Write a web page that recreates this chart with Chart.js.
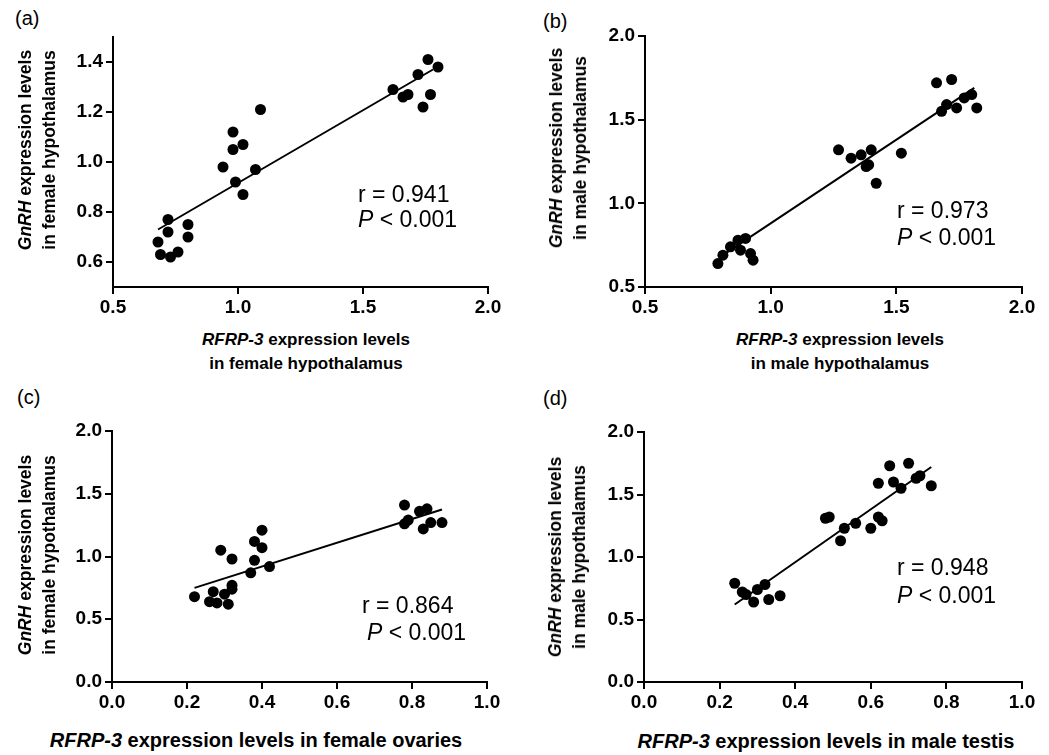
<!DOCTYPE html>
<html>
<head>
<meta charset="utf-8">
<script src="https://cdn.jsdelivr.net/npm/chart.js@4.4.1/dist/chart.umd.min.js"></script>
<style>
  html, body { margin: 0; padding: 0; background: #fff; }
  #page { position: relative; width: 1049px; height: 755px; overflow: hidden;
          font-family: "Liberation Sans", Arial, Helvetica, sans-serif; color: #000; }
  .box { position: absolute; }
  .txt { position: absolute; white-space: nowrap; }
  .ytitle { position: absolute; white-space: nowrap; text-align: center; font-weight: bold;
            transform: translate(-50%, -50%) rotate(-90deg); }
</style>
</head>
<body>
<div id="page"></div>
<script>
"use strict";

// (a) RFRP-3 vs GnRH, female hypothalamus
var aX = [0.68, 0.69, 0.72, 0.72, 0.73, 0.76, 0.80, 0.80, 0.94, 0.98, 0.98, 0.99,
          1.02, 1.02, 1.07, 1.09, 1.62, 1.66, 1.68, 1.72, 1.74, 1.76, 1.77, 1.80];
var aY = [0.68, 0.63, 0.77, 0.72, 0.62, 0.64, 0.75, 0.70, 0.98, 1.12, 1.05, 0.92,
          0.87, 1.07, 0.97, 1.21, 1.29, 1.26, 1.27, 1.35, 1.22, 1.41, 1.27, 1.38];
var aFitX = [0.68, 1.78];
var aFitY = [0.73, 1.37];
var aXTicks = [0.5, 1.0, 1.5, 2.0];
var aYTicks = [0.6, 0.8, 1.0, 1.2, 1.4];

// (b) RFRP-3 vs GnRH, male hypothalamus
var bX = [0.79, 0.81, 0.84, 0.87, 0.88, 0.90, 0.92, 0.93, 1.27, 1.32, 1.36, 1.38,
          1.39, 1.40, 1.42, 1.52, 1.66, 1.72, 1.68, 1.70, 1.74, 1.77, 1.80, 1.82];
var bY = [0.64, 0.69, 0.74, 0.78, 0.72, 0.79, 0.70, 0.66, 1.32, 1.27, 1.29, 1.22,
          1.23, 1.32, 1.12, 1.30, 1.72, 1.74, 1.55, 1.59, 1.57, 1.63, 1.65, 1.57];
var bFitX = [0.81, 1.81];
var bFitY = [0.69, 1.69];
var bXTicks = [0.5, 1.0, 1.5, 2.0];
var bYTicks = [0.5, 1.0, 1.5, 2.0];

// (c) RFRP-3 in female ovaries vs GnRH in female hypothalamus
var cX = [0.22, 0.26, 0.27, 0.28, 0.29, 0.30, 0.31, 0.32, 0.32, 0.32, 0.37, 0.38,
          0.38, 0.40, 0.40, 0.42, 0.78, 0.78, 0.79, 0.82, 0.83, 0.84, 0.85, 0.88];
var cY = [0.68, 0.64, 0.72, 0.63, 1.05, 0.70, 0.62, 0.98, 0.77, 0.74, 0.87, 0.97,
          1.12, 1.21, 1.07, 0.92, 1.41, 1.26, 1.29, 1.36, 1.22, 1.38, 1.27, 1.27];
var cFitX = [0.22, 0.88];
var cFitY = [0.75, 1.375];
var cXTicks = [0.0, 0.2, 0.4, 0.6, 0.8, 1.0];
var cYTicks = [0.0, 0.5, 1.0, 1.5, 2.0];

// (d) RFRP-3 in male testis vs GnRH in male hypothalamus
var dX = [0.24, 0.26, 0.27, 0.29, 0.30, 0.32, 0.33, 0.36, 0.48, 0.49, 0.52, 0.53,
          0.56, 0.60, 0.62, 0.62, 0.63, 0.65, 0.66, 0.68, 0.70, 0.72, 0.73, 0.76];
var dY = [0.79, 0.72, 0.70, 0.64, 0.74, 0.78, 0.66, 0.69, 1.31, 1.32, 1.13, 1.23,
          1.27, 1.23, 1.59, 1.32, 1.29, 1.73, 1.60, 1.55, 1.75, 1.63, 1.65, 1.57];
var dFitX = [0.24, 0.76];
var dFitY = [0.62, 1.72];
var dXTicks = [0.0, 0.2, 0.4, 0.6, 0.8, 1.0];
var dYTicks = [0.0, 0.5, 1.0, 1.5, 2.0];

var FONT = '"Liberation Sans", Arial, Helvetica, sans-serif';
var page = document.getElementById('page');

function pairs(xs, ys) {
    var out = [];
    for (var i = 0; i < xs.length; i++) {
        out.push({x: xs[i], y: ys[i]});
    }
    return out;
}

// chart area = box.left+60 .. box.left+w-20, box.top+15 .. box.top+h-40
function makePanel(p) {
    var div = document.createElement('div');
    div.className = 'box';
    div.style.left = p.left + 'px';
    div.style.top = p.top + 'px';
    div.style.width = p.width + 'px';
    div.style.height = p.height + 'px';
    var canvas = document.createElement('canvas');
    div.appendChild(canvas);
    page.appendChild(div);

    var tickFont = {family: FONT, size: 19, weight: 'bold'};
    var grid = {display: true, drawOnChartArea: false, drawTicks: true, tickLength: 7,
                color: '#000', lineWidth: 2};
    var border = {display: true, color: '#000', width: 2};

    new Chart(canvas, {
        type: 'scatter',
        data: {
            datasets: [{
                data: pairs(p.xs, p.ys),
                backgroundColor: '#000',
                borderColor: '#000',
                borderWidth: 0,
                pointRadius: 5.5,
                pointHoverRadius: 5.5
            }, {
                data: pairs(p.fitX, p.fitY),
                showLine: true,
                borderColor: '#000',
                borderWidth: 2,
                pointRadius: 0,
                fill: false
            }]
        },
        options: {
            responsive: true,
            maintainAspectRatio: false,
            animation: false,
            layout: {padding: {left: 0, right: 20, top: 15, bottom: 0}},
            plugins: {legend: {display: false}, tooltip: {enabled: false}},
            scales: {
                x: {
                    type: 'linear',
                    min: p.xTicks[0],
                    max: p.xTicks[p.xTicks.length - 1],
                    afterBuildTicks: function (s) { s.ticks = p.xTicks.map(function (v) { return {value: v}; }); },
                    afterFit: function (s) { s.height = 40; },
                    ticks: {font: tickFont, color: '#000', padding: 2, maxRotation: 0,
                            callback: function (v) { return Number(v).toFixed(1); }},
                    grid: grid,
                    border: border
                },
                y: {
                    type: 'linear',
                    min: p.yMin,
                    max: p.yMax,
                    afterBuildTicks: function (s) { s.ticks = p.yTicks.map(function (v) { return {value: v}; }); },
                    afterFit: function (s) { s.width = 60; },
                    ticks: {font: tickFont, color: '#000', padding: 3,
                            callback: function (v) { return Number(v).toFixed(1); }},
                    grid: grid,
                    border: border
                }
            }
        }
    });
}

// text placed by its baseline
function addText(html, x, base, size, lh, css) {
    var el = document.createElement('div');
    el.className = 'txt';
    el.innerHTML = html;
    el.style.fontSize = size + 'px';
    el.style.lineHeight = lh + 'px';
    el.style.left = x + 'px';
    el.style.top = (base - ((lh - 1.117 * size) / 2 + 0.905 * size)) + 'px';
    for (var k in css) { el.style[k] = css[k]; }
    page.appendChild(el);
    return el;
}

function addYTitle(html, cx, cy) {
    var el = document.createElement('div');
    el.className = 'ytitle';
    el.innerHTML = html;
    el.style.fontSize = '17.5px';
    el.style.lineHeight = '24px';
    el.style.left = cx + 'px';
    el.style.top = cy + 'px';
    page.appendChild(el);
}

makePanel({left: 53, top: 22, width: 455, height: 305, xs: aX, ys: aY, fitX: aFitX, fitY: aFitY,
           xTicks: aXTicks, yTicks: aYTicks, yMin: 0.5, yMax: 1.5});
makePanel({left: 585, top: 21, width: 457, height: 306, xs: bX, ys: bY, fitX: bFitX, fitY: bFitY,
           xTicks: bXTicks, yTicks: bYTicks, yMin: 0.5, yMax: 2.0});
makePanel({left: 52, top: 416, width: 455, height: 306, xs: cX, ys: cY, fitX: cFitX, fitY: cFitY,
           xTicks: cXTicks, yTicks: cYTicks, yMin: 0.0, yMax: 2.0});
makePanel({left: 584, top: 417, width: 458, height: 305, xs: dX, ys: dY, fitX: dFitX, fitY: dFitY,
           xTicks: dXTicks, yTicks: dYTicks, yMin: 0.0, yMax: 2.0});

// panel letters
addText('(a)', 15, 24.5, 20, 20, {});
addText('(b)', 543, 27.5, 20, 20, {});
addText('(c)', 17, 404, 20, 20, {});
addText('(d)', 543, 405, 20, 20, {});

// y titles
addYTitle('<i>GnRH</i> expression levels<br>in female hypothalamus', 36.5, 150);
addYTitle('<i>GnRH</i> expression levels<br>in male hypothalamus', 568, 148);
addYTitle('<i>GnRH</i> expression levels<br>in female hypothalamus', 36.5, 555);
addYTitle('<i>GnRH</i> expression levels<br>in male hypothalamus', 567, 557);

// x titles
var ctr = {transform: 'translateX(-50%)', textAlign: 'center', fontWeight: 'bold'};
addText('<i>RFRP-3</i> expression levels<br>in female hypothalamus', 306, 346, 17, 24, ctr);
addText('<i>RFRP-3</i> expression levels<br>in male hypothalamus', 840, 346, 17, 24, ctr);
addText('<i>RFRP-3</i> expression levels in female ovaries', 256, 747, 20, 24, ctr);
addText('<i>RFRP-3</i> expression levels in male testis', 826, 748, 20, 24, ctr);

// r and P annotations
addText('r = 0.941', 358, 202, 23, 23, {});
addText('<i>P</i> &lt; 0.001', 358, 227, 23, 23, {});
addText('r = 0.973', 897, 218, 23, 23, {});
addText('<i>P</i> &lt; 0.001', 897, 245, 23, 23, {});
addText('r = 0.864', 362, 613, 23, 23, {});
addText('<i>P</i> &lt; 0.001', 367, 640, 23, 23, {});
addText('r = 0.948', 897, 575, 23, 23, {});
addText('<i>P</i> &lt; 0.001', 897, 603, 23, 23, {});
</script>
</body>
</html>
